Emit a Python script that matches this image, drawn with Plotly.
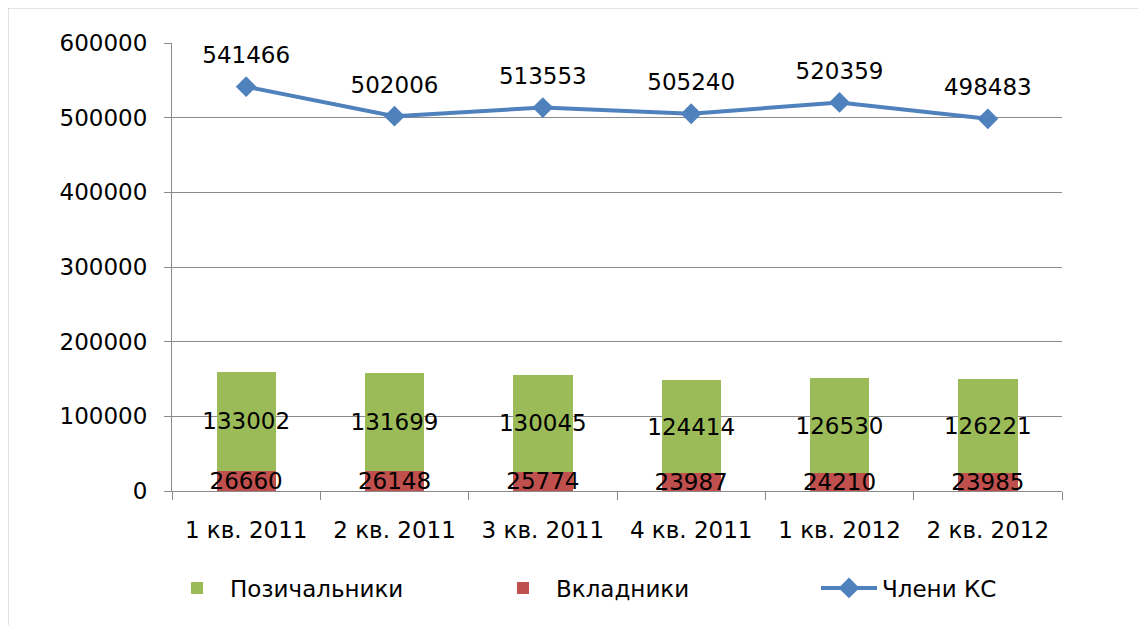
import plotly.graph_objects as go

categories = ["1 кв. 2011", "2 кв. 2011", "3 кв. 2011", "4 кв. 2011", "1 кв. 2012", "2 кв. 2012"]
members = [541466, 502006, 513553, 505240, 520359, 498483]
borrowers = [133002, 131699, 130045, 124414, 126530, 126221]
depositors = [26660, 26148, 25774, 23987, 24210, 23985]
y_ticks = [0, 100000, 200000, 300000, 400000, 500000, 600000]

FONT = "DejaVu Sans"
FS = 23
GRID = "#8a8a8a"

fig = go.Figure()
fig.add_trace(go.Bar(
    x=categories, y=depositors, name="Вкладники",
    marker=dict(color="#C0504D", line=dict(width=0)),
    text=[str(v) for v in depositors], textposition="inside",
    insidetextanchor="middle", textangle=0, constraintext="none",
    textfont=dict(color="#000000", size=FS, family=FONT),
    legendrank=2, hoverinfo="skip",
))
fig.add_trace(go.Bar(
    x=categories, y=borrowers, name="Позичальники",
    marker=dict(color="#9BBB59", line=dict(width=0)),
    text=[str(v) for v in borrowers], textposition="inside",
    insidetextanchor="middle", textangle=0, constraintext="none",
    textfont=dict(color="#000000", size=FS, family=FONT),
    legendrank=1, hoverinfo="skip",
))
fig.add_trace(go.Scatter(
    x=categories, y=members, name="Члени КС", mode="lines+markers",
    line=dict(color="#4F81BD", width=4),
    marker=dict(symbol="diamond", size=16, color="#4F81BD"),
    legendrank=3, hoverinfo="skip",
))
# labels above the line points
fig.add_trace(go.Scatter(
    x=categories, y=members, mode="markers+text", showlegend=False,
    marker=dict(size=27, opacity=0),
    text=[str(v) for v in members], textposition="top center",
    textfont=dict(color="#000000", size=FS, family=FONT),
    hoverinfo="skip", cliponaxis=False,
))

OFF = 8  # page body margin
L, R, T, B = 172 - OFF, 84, 43 - OFF, 134
W, H = 1146 - OFF, 625 - OFF
pw, ph = W - L - R, H - T - B
ybot = 491 - OFF  # plot bottom in figure px

fig.update_layout(
    width=W, height=H,
    margin=dict(l=L, r=R, t=T, b=B, pad=0),
    barmode="stack", bargap=0.6,
    plot_bgcolor="#ffffff", paper_bgcolor="#ffffff",
    font=dict(family=FONT, size=FS, color="#000000"),
    legend=dict(
        orientation="h", traceorder="normal",
        x=(164 - OFF - L) / pw, xanchor="left",
        y=(ybot - (588 - OFF)) / ph, yanchor="middle",
        entrywidth=255, entrywidthmode="pixels", itemwidth=56,
        font=dict(family=FONT, size=FS, color="#000000"),
        bgcolor="rgba(0,0,0,0)",
    ),
    shapes=[dict(
        type="rect", xref="paper", yref="paper",
        x0=(7 - OFF - L) / pw, x1=(1170 - L) / pw,
        y0=(ybot - 660) / ph, y1=1 + (T - (7 - OFF)) / ph,
        line=dict(color="#8a8a8a", width=2.5), fillcolor="rgba(0,0,0,0)",
        layer="below",
    )],
)
fig.update_xaxes(
    type="category", showline=True, linecolor=GRID, linewidth=1,
    ticks="outside", ticklen=8, tickcolor=GRID, tickson="boundaries",
    showgrid=False, ticklabelstandoff=18,
    tickfont=dict(family=FONT, size=FS, color="#000000"),
)
fig.update_yaxes(
    range=[0, 600000], tickvals=y_ticks, ticktext=[str(v) for v in y_ticks],
    showline=True, linecolor=GRID, linewidth=1,
    ticks="outside", ticklen=7, tickcolor=GRID,
    showgrid=True, gridcolor=GRID, gridwidth=1, zeroline=False,
    ticklabelstandoff=12,
    tickfont=dict(family=FONT, size=FS, color="#000000"),
)

fig.write_html("out.html")
